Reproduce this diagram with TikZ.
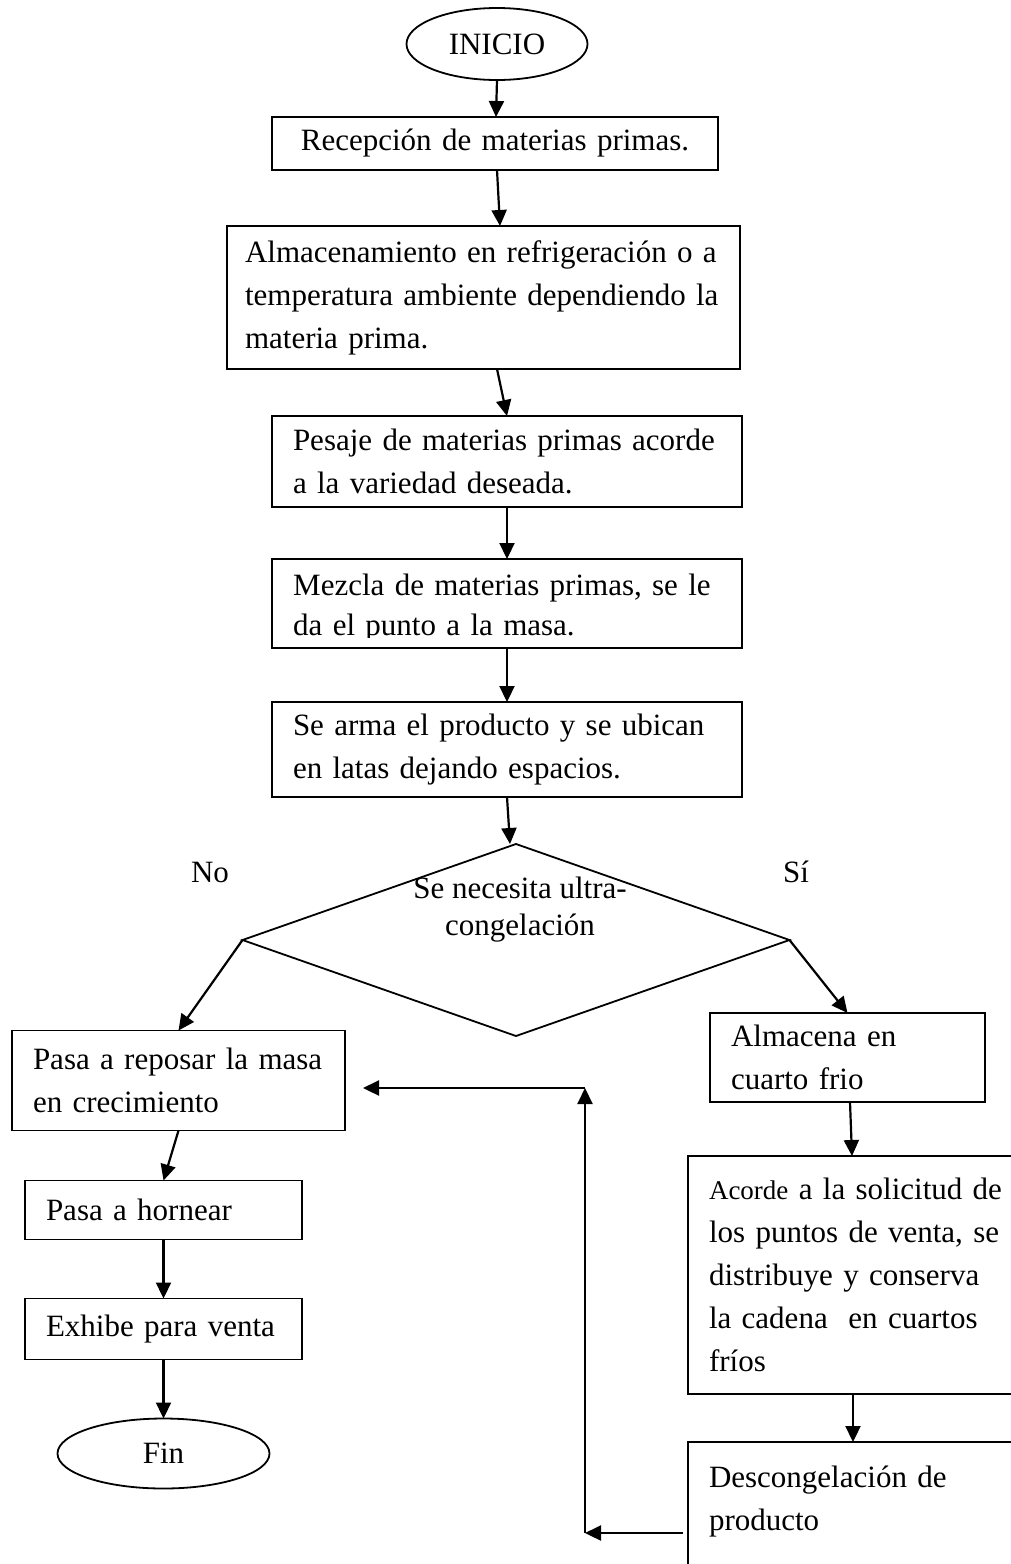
\documentclass[tikz,border=0pt]{standalone}
\usepackage{fontspec}
\setmainfont{Liberation Serif}
\usepackage{tikz}
\usetikzlibrary{calc, shapes.geometric, arrows.meta, positioning}
\setlength{\parindent}{0pt}
\newcommand{\fullline}[1]{\makebox[\hsize][s]{#1}}

\begin{document}
\begin{tikzpicture}[
        x=1pt, y=-1pt,
        font=\fontsize{31pt}{43pt}\selectfont,
        box/.style={rectangle, draw=black, line width=1.8pt, inner xsep=21pt, inner ysep=3pt, outer sep=0pt, align=left},
        term/.style={ellipse, draw=black, line width=1.8pt, inner sep=0pt, outer sep=0pt},
        decision/.style={diamond, draw=black, line width=1.8pt, inner sep=0pt, outer sep=0pt, minimum width=547pt, minimum height=192pt},
        arrow/.style={-{Triangle[length=16pt, width=15pt]}, line width=2.2pt}
    ]
        \useasboundingbox[fill=white] (0,0) rectangle (1010,1564);
        % Nodes
        \node[term, minimum width=181pt, minimum height=72pt] (inicio) at (497,44) {INICIO};
        \node[box, below=37pt of inicio, xshift=-2pt, minimum width=446pt, minimum height=53pt, text width=404pt, align=center] (recep) {Recepción de materias primas.};
        \node[box, below=56pt of recep, xshift=-11.5pt, inner xsep=18pt, minimum width=513pt, minimum height=143pt, text width=477pt] (almac) {\fullline{Almacenamiento en refrigeración o a}\\\fullline{temperatura ambiente dependiendo la}\\materia prima.};
        \node[box, below=47pt of almac, xshift=23.5pt, minimum width=470pt, minimum height=91pt, text width=428pt] (pesaje) {Pesaje de materias primas acorde\\a la variedad deseada.};
        \node[box, below=52pt of pesaje, minimum width=470pt, minimum height=89pt] (mezcla) {};
        \begin{scope}
            \clip (mezcla.north west) rectangle ([yshift=11pt]mezcla.south east);
            \node[anchor=north west, inner sep=0pt, text width=428pt, align=left, font=\fontsize{31pt}{40pt}\selectfont] (mezclatxt) at ([xshift=21pt, yshift=-15pt]mezcla.north west) {\fullline{Mezcla de materias primas, se le}\\da el punto a la masa.};
        \end{scope}
        \node[box, below=54pt of mezcla, minimum width=470pt, minimum height=95pt, text width=428pt] (searma) {Se arma el producto y se ubican\\en latas dejando espacios.};
        
        \node[decision, below=47pt of searma, xshift=9pt] (ultra) {};
        \node[align=center, font=\fontsize{31pt}{37pt}\selectfont] (ultratxt) at ($(ultra.center)+(4,-30)$) {Se necesita ultra-\\congelación};
        \node (nolbl) at (210,872) {No};
        \node (silbl) at (796,872) {Sí};
        
        % left branch
        \node[box, minimum width=333pt, minimum height=100pt, text width=291pt] (reposar) at (178.5,1080.5) {Pasa a reposar la masa\\en crecimiento};
        \node[box, below=50pt of reposar, xshift=-15pt, minimum width=277pt, minimum height=59pt, text width=235pt] (hornear) {Pasa a hornear};
        \node[box, below=59pt of hornear, minimum width=277pt, minimum height=61pt, text width=235pt] (exhibe) {Exhibe para venta};
        \node[term, below=59pt of exhibe, minimum width=212pt, minimum height=70pt] (fin) {Fin};
        
        % right branch
        \node[box, minimum width=275pt, minimum height=89pt, text width=233pt] (almacena) at (847.5,1057.5) {Almacena en\\cuarto frio};
        \node[box, below=54pt of almacena, xshift=10.5pt, minimum width=340pt, minimum height=238pt, text width=298pt] (acorde) {\fullline{{\fontsize{27pt}{43pt}\selectfont Acorde} a la solicitud de}\\\fullline{los puntos de venta, se}\\\fullline{distribuye y conserva}\\\fullline{la cadena\ \ en cuartos}\\fríos};
        \node[box, below=48pt of acorde, minimum width=340pt, minimum height=156pt, text width=298pt] (descong) {Descongelación de\\producto\\\mbox{}};
        
        % Arrows
        \draw[arrow] (inicio.south) -- ([xshift=1pt]recep.north);
        \draw[arrow] ([xshift=2pt]recep.south) -- ([xshift=16.5pt]almac.north);
        \draw[arrow] ([xshift=13.5pt]almac.south) -- (pesaje.north);
        \draw[arrow] (pesaje) -- (mezcla);
        \draw[arrow] (mezcla) -- (searma);
        \draw[arrow] (searma.south) -- ([xshift=-6pt]ultra.north);
        \draw[arrow] (ultra.west) -- (reposar.north);
        \draw[arrow] (ultra.east) -- (almacena.north);
        \draw[arrow] (reposar.south) -- (hornear.north);
        \draw[arrow] (hornear) -- (exhibe);
        \draw[arrow] (exhibe) -- (fin);
        \draw[arrow] ([xshift=2.5pt]almacena.south) -- ([xshift=-6pt]acorde.north);
        \draw[arrow] ([xshift=-5pt]acorde.south) -- ([xshift=-5pt]descong.north);
        
        % return path
        \coordinate (ret1) at (585,1533);
        \coordinate (ret2) at (585,1088);
        \coordinate (ret3) at ($(reposar.east |- ret2)+(18,0)$);
        \draw[arrow] ($(descong.west |- ret1)+(-5,0)$) -- (ret1);
        \draw[arrow] (ret1) -- (ret2);
        \draw[arrow] (ret2) -- (ret3);
    \end{tikzpicture}
\end{document}
